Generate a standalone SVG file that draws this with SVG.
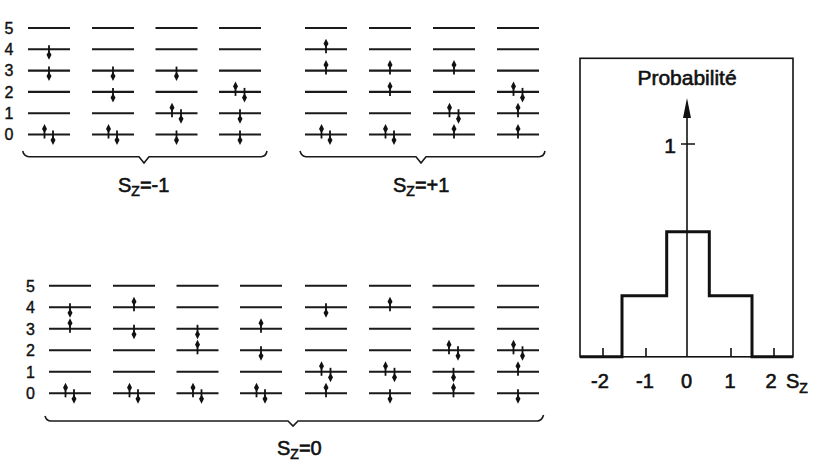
<svg xmlns="http://www.w3.org/2000/svg" xmlns:xlink="http://www.w3.org/1999/xlink" width="826" height="467" viewBox="0 0 826 467">
<style>
.lvl{stroke:#1a1a1a;stroke-width:2.1;fill:none}
.br{stroke:#1a1a1a;stroke-width:1.6;fill:none;stroke-linejoin:miter}
.t{font-family:"Liberation Sans",Arial,sans-serif;fill:#111;stroke:#111;stroke-width:0.6}
.num{font-size:16px;text-anchor:middle;stroke-width:0.4}
.big{font-size:20px}
.ax{stroke:#111;stroke-width:1.6;fill:none}
</style>
<defs>
<g id="up"><path d="M0,4V-6" stroke="#111" stroke-width="1.8"/><path d="M0,-10.5L2.5,-5.5L0,-1.5L-2.5,-5.5Z" fill="#111"/></g>
<g id="dn"><path d="M0,-4V6" stroke="#111" stroke-width="1.8"/><path d="M0,10.5L2.5,5.5L0,1.5L-2.5,5.5Z" fill="#111"/></g>
<path id="lt" class="lvl" d="M0,28H42M0,49.3H42M0,70.6H42M0,91.9H42M0,113.2H42M0,134.5H42"/>
<path id="lb" class="lvl" d="M0,285.8H42M0,307.3H42M0,328.8H42M0,350.3H42M0,371.8H42M0,393.3H42"/>
</defs>
<rect width="826" height="467" fill="#fff"/>

<g id="labels-top" class="t num">
<text x="9" y="33.7">5</text><text x="9" y="55">4</text><text x="9" y="76.3">3</text><text x="9" y="97.6">2</text><text x="9" y="118.9">1</text><text x="9" y="140.2">0</text>
</g>
<g id="labels-bottom" class="t num">
<text x="30.5" y="291.5">5</text><text x="30.5" y="313">4</text><text x="30.5" y="334.5">3</text><text x="30.5" y="356">2</text><text x="30.5" y="377.5">1</text><text x="30.5" y="399">0</text>
</g>

<g id="panel-sz-minus1">
<g id="m1-c1" transform="translate(28,0)"><use href="#lt"/><use href="#dn" x="21" y="49.3"/><use href="#dn" x="21" y="70.6"/><use href="#up" x="16.5" y="134.5"/><use href="#dn" x="25" y="134.5"/></g>
<g id="m1-c2" transform="translate(92,0)"><use href="#lt"/><use href="#dn" x="21" y="70.6"/><use href="#dn" x="21" y="91.9"/><use href="#up" x="16.5" y="134.5"/><use href="#dn" x="25" y="134.5"/></g>
<g id="m1-c3" transform="translate(155.5,0)"><use href="#lt"/><use href="#dn" x="21" y="70.6"/><use href="#up" x="16.5" y="113.2"/><use href="#dn" x="25.5" y="113.2"/><use href="#dn" x="21" y="134.5"/></g>
<g id="m1-c4" transform="translate(219,0)"><use href="#lt"/><use href="#up" x="16.5" y="91.9"/><use href="#dn" x="25.5" y="91.9"/><use href="#dn" x="21" y="113.2"/><use href="#dn" x="21" y="134.5"/></g>
<path class="br" d="M22.7,151Q24,156.5 29,156.7H139L144,163L149,156.7H261Q266,156.5 267,151"/>
<text class="t big" x="118" y="192">S<tspan font-size="14" dy="4">Z</tspan><tspan dy="-4">=-1</tspan></text>
</g>

<g id="panel-sz-plus1">
<g id="p1-c1" transform="translate(305,0)"><use href="#lt"/><use href="#up" x="21" y="49.3"/><use href="#up" x="21" y="70.6"/><use href="#up" x="16.5" y="134.5"/><use href="#dn" x="25" y="134.5"/></g>
<g id="p1-c2" transform="translate(369,0)"><use href="#lt"/><use href="#up" x="21" y="70.6"/><use href="#up" x="21" y="91.9"/><use href="#up" x="16.5" y="134.5"/><use href="#dn" x="25" y="134.5"/></g>
<g id="p1-c3" transform="translate(433,0)"><use href="#lt"/><use href="#up" x="21" y="70.6"/><use href="#up" x="16.5" y="113.2"/><use href="#dn" x="25.5" y="113.2"/><use href="#up" x="21" y="134.5"/></g>
<g id="p1-c4" transform="translate(497,0)"><use href="#lt"/><use href="#up" x="16.5" y="91.9"/><use href="#dn" x="25.5" y="91.9"/><use href="#up" x="21" y="113.2"/><use href="#up" x="21" y="134.5"/></g>
<path class="br" d="M300,151Q301.5,156.5 306,156.7H416L421,163L426,156.7H539Q544,156.5 545,151"/>
<text class="t big" x="393" y="192">S<tspan font-size="14" dy="4">Z</tspan><tspan dy="-4">=+1</tspan></text>
</g>

<g id="panel-sz-0">
<g id="z-c1" transform="translate(49,0)"><use href="#lb"/><use href="#dn" x="21" y="307.3"/><use href="#up" x="21" y="328.8"/><use href="#up" x="16.5" y="393.3"/><use href="#dn" x="25" y="393.3"/></g>
<g id="z-c2" transform="translate(113,0)"><use href="#lb"/><use href="#up" x="21" y="307.3"/><use href="#dn" x="21" y="328.8"/><use href="#up" x="16.5" y="393.3"/><use href="#dn" x="25" y="393.3"/></g>
<g id="z-c3" transform="translate(176.5,0)"><use href="#lb"/><use href="#dn" x="21" y="328.8"/><use href="#up" x="21" y="350.3"/><use href="#up" x="16.5" y="393.3"/><use href="#dn" x="25" y="393.3"/></g>
<g id="z-c4" transform="translate(240,0)"><use href="#lb"/><use href="#up" x="21" y="328.8"/><use href="#dn" x="21" y="350.3"/><use href="#up" x="16.5" y="393.3"/><use href="#dn" x="25" y="393.3"/></g>
<g id="z-c5" transform="translate(305,0)"><use href="#lb"/><use href="#dn" x="21" y="307.3"/><use href="#up" x="16.5" y="371.8"/><use href="#dn" x="25.5" y="371.8"/><use href="#up" x="21" y="393.3"/></g>
<g id="z-c6" transform="translate(369,0)"><use href="#lb"/><use href="#up" x="21" y="307.3"/><use href="#up" x="16.5" y="371.8"/><use href="#dn" x="25.5" y="371.8"/><use href="#dn" x="21" y="393.3"/></g>
<g id="z-c7" transform="translate(432.5,0)"><use href="#lb"/><use href="#up" x="16.5" y="350.3"/><use href="#dn" x="25.5" y="350.3"/><use href="#dn" x="21" y="371.8"/><use href="#up" x="21" y="393.3"/></g>
<g id="z-c8" transform="translate(497,0)"><use href="#lb"/><use href="#up" x="16.5" y="350.3"/><use href="#dn" x="25.5" y="350.3"/><use href="#up" x="21" y="371.8"/><use href="#dn" x="21" y="393.3"/></g>
<path class="br" d="M45,416Q46.5,421 51,421H288L293,426L298,421H537Q542,421 543.5,415"/>
<text class="t big" x="277" y="455">S<tspan font-size="14" dy="4">Z</tspan><tspan dy="-4">=0</tspan></text>
</g>

<g id="probability-chart">
<rect x="580" y="58.3" width="213" height="298.5" fill="none" stroke="#111" stroke-width="1.6"/>
<path class="ax" d="M687,357V116"/>
<path d="M687,98L691,118H683Z" fill="#111"/>
<path class="ax" d="M681,144H695M603,357V348M646,357V348M731,357V348M774,357V348"/>
<path d="M580,356.7H622V295.7H666.7V231.7H709.3V295.7H752V356.7H793" fill="none" stroke="#111" stroke-width="3" stroke-linejoin="miter"/>
<text class="t" x="687" y="85" font-size="21" text-anchor="middle">Probabilité</text>
<text class="t" x="670" y="153" font-size="21" text-anchor="middle">1</text>
<g class="t" font-size="20" text-anchor="middle">
<text x="600" y="388">-2</text><text x="645" y="388">-1</text><text x="686.5" y="388">0</text><text x="730" y="388">1</text><text x="771" y="388">2</text>
</g>
<text class="t" x="786" y="388" font-size="20">S<tspan font-size="14" dy="5">Z</tspan></text>
</g>
</svg>
